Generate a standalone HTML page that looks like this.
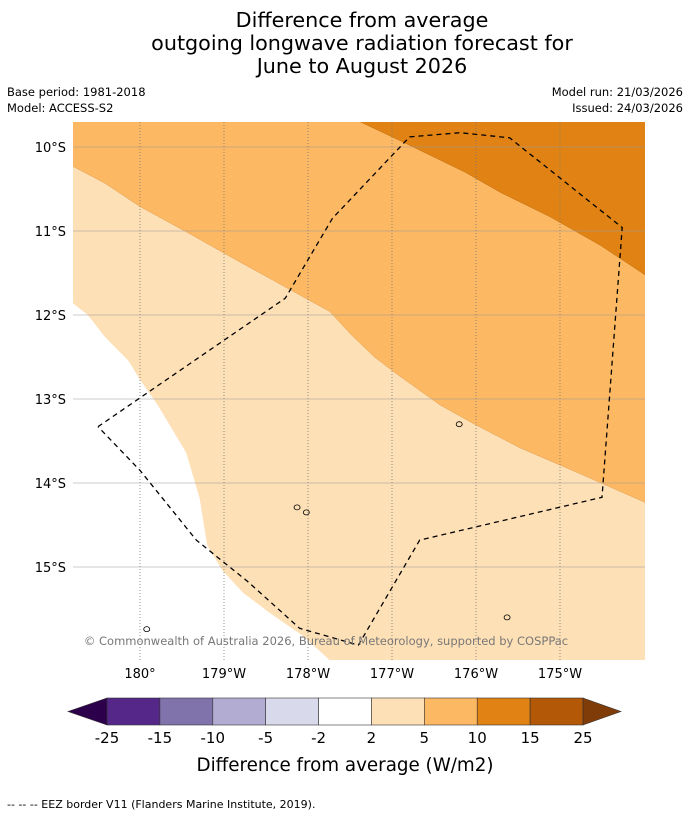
<!DOCTYPE html>
<html><head><meta charset="utf-8"><style>
body{margin:0;background:#fff;font-family:"DejaVu Sans","Liberation Sans",sans-serif;}
svg{display:block}
</style></head><body>
<svg id="c" width="690" height="816" xmlns="http://www.w3.org/2000/svg">
<text x="362" y="27" font-size="20.7" text-anchor="middle">Difference from average</text>
<text x="362" y="50" font-size="20.7" text-anchor="middle">outgoing longwave radiation forecast for</text>
<text x="362" y="73" font-size="20.7" text-anchor="middle">June to August 2026</text>
<text x="7" y="96" font-size="11.5">Base period: 1981-2018</text>
<text x="7" y="112" font-size="11.5">Model: ACCESS-S2</text>
<text x="683" y="96" font-size="11.5" text-anchor="end">Model run: 21/03/2026</text>
<text x="683" y="112" font-size="11.5" text-anchor="end">Issued: 24/03/2026</text>
<defs><clipPath id="mc"><rect x="73" y="122" width="572" height="538"/></clipPath></defs>
<g id="map" clip-path="url(#mc)"></g>
<g id="ax"></g>
<text x="326" y="645" font-size="11.5" fill="#777" text-anchor="middle">© Commonwealth of Australia 2026, Bureau of Meteorology, supported by COSPPac</text>
<g id="cb"></g>
<text x="345" y="771" font-size="18.3" text-anchor="middle">Difference from average (W/m2)</text>
<text x="7" y="808" font-size="11">--  --  -- EEZ border V11 (Flanders Marine Institute, 2019).</text>
</svg>
<script>
const lonTicks=[180,181,182,183,184,185];
const lonLabels=["180°","179°W","178°W","177°W","176°W","175°W"];
const latTicks=[10,11,12,13,14,15];
const latLabels=["10°S","11°S","12°S","13°S","14°S","15°S"];
const contour2=[[179.20,11.86],[179.38,12.00],[179.58,12.26],[179.86,12.54],[180.00,12.77],[180.21,13.07],[180.55,13.64],[180.71,14.18],[180.80,14.74],[180.98,15.04],[181.23,15.31],[181.55,15.55],[181.94,15.82],[182.26,16.11]];
const contour5=[[179.20,10.23],[179.58,10.43],[180.00,10.71],[180.55,11.01],[181.19,11.37],[181.79,11.70],[182.26,11.96],[182.52,12.24],[182.79,12.50],[183.04,12.69],[183.57,13.07],[184.00,13.31],[184.52,13.58],[185.24,13.89],[186.01,14.23]];
const contour10=[[182.62,9.70],[183.15,9.95],[183.87,10.30],[184.29,10.54],[184.88,10.83],[185.48,11.17],[186.01,11.52]];
const eez=[[179.50,13.33],[181.73,11.80],[182.29,10.85],[183.21,9.88],[183.81,9.83],[184.40,9.89],[185.74,10.96],[185.50,14.17],[183.33,14.68],[182.60,15.93],[181.90,15.73],[181.29,15.18],[180.67,14.68],[180.00,13.85],[179.50,13.33]];
const islands=[[183.80,13.30],[181.87,14.29],[181.98,14.35],[184.37,15.60],[180.08,15.74]];
const cbBounds=["-25","-15","-10","-5","-2","2","5","10","15","25"];
const cbColors=["#542788","#8073ac","#b2abd2","#d8daeb","#ffffff","#fee0b6","#fdb863","#e08214","#b35806"];
const NS="http://www.w3.org/2000/svg";
const X=l=>140+(l-180)*84, Y=l=>147+(l-10)*84;
const pts=a=>a.map(p=>X(p[0]).toFixed(1)+","+Y(p[1]).toFixed(1)).join(" ");
function mk(par,tag,at){const e=document.createElementNS(NS,tag);for(const k in at)e.setAttribute(k,at[k]);par.appendChild(e);return e;}
const map=document.getElementById("map");
let r=mk(map,"rect",{x:73,y:122,width:572,height:538,fill:"#fee0b6"});


let p=mk(map,"polygon",{points:pts(contour2)+" 0,700",fill:"#ffffff"});


p=mk(map,"polygon",{points:pts(contour5)+" 700,0 0,0",fill:"#fdb863",stroke:"#e0a050","stroke-width":0.5});


p=mk(map,"polygon",{points:pts(contour10)+" 700,0",fill:"#e08214",stroke:"#c07010","stroke-width":0.5});


lonTicks.forEach((t,i)=>{
 let l=mk(map,"line",{x1:X(t),x2:X(t),y1:122,y2:660,stroke:"#777","stroke-width":0.8,"stroke-dasharray":"1,2"});
 
 
 let tx=mk(document.getElementById("ax"),"text",{x:X(t),y:678,"font-size":13,"text-anchor":"middle"});tx.textContent=lonLabels[i];
 
 
});
latTicks.forEach((t,i)=>{
 let l=mk(map,"line",{x1:73,x2:645,y1:Y(t),y2:Y(t),stroke:"#999","stroke-width":0.6});
 
 
 let tx=mk(document.getElementById("ax"),"text",{x:66,y:Y(t)+5,"font-size":13,"text-anchor":"end"});tx.textContent=latLabels[i];
 
 
});
islands.forEach(s=>{
 let e=mk(map,"ellipse",{cx:X(s[0]),cy:Y(s[1]),rx:3,ry:2.5,fill:"none",stroke:"#000","stroke-width":0.8});
 
 
});
p=mk(map,"polyline",{points:pts(eez),fill:"none",stroke:"#000","stroke-width":1.3,"stroke-dasharray":"5,4"});


const cb=document.getElementById("cb");
const x0=107,w=(583-107)/cbColors.length,y0=698,h=27;
cbColors.forEach((c,i)=>{
 let b=mk(cb,"rect",{x:x0+i*w,y:y0,width:w,height:h,fill:c,stroke:"#333","stroke-width":0.6});
 
 
});
let tl=mk(cb,"polygon",{points:`${x0},${y0} 68,${y0+h/2} ${x0},${y0+h}`,fill:"#2d004b",stroke:"#333","stroke-width":0.6});


let tr=mk(cb,"polygon",{points:`583,${y0} 621,${y0+h/2} 583,${y0+h}`,fill:"#7f3b08",stroke:"#333","stroke-width":0.6});


cbBounds.forEach((b,i)=>{
 let t=mk(cb,"text",{x:x0+i*w,y:743,"font-size":15,"text-anchor":"middle"});t.textContent=b;
 
 
});
</script>
</body></html>
